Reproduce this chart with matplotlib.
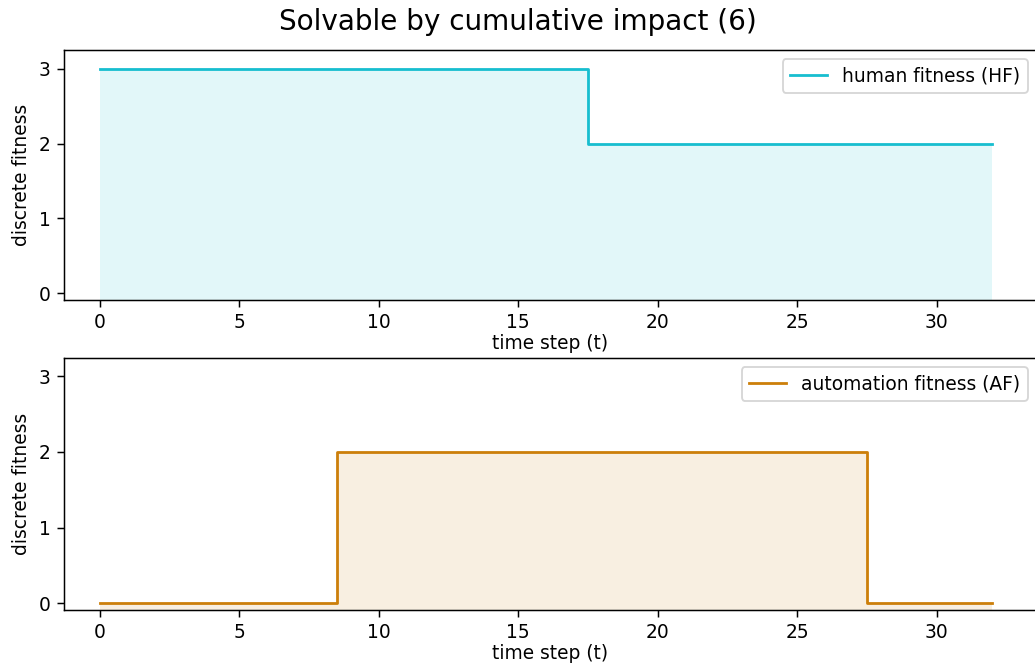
import matplotlib
matplotlib.use("Agg")
import matplotlib.pyplot as plt

time_steps = [0, 1, 2, 3, 4, 5, 6, 7, 8, 9, 10, 11, 12, 13, 14, 15, 16,
              17, 18, 19, 20, 21, 22, 23, 24, 25, 26, 27, 28, 29, 30, 31, 32]
human_fitness = [3, 3, 3, 3, 3, 3, 3, 3, 3, 3, 3, 3, 3, 3, 3, 3, 3,
                 3, 2, 2, 2, 2, 2, 2, 2, 2, 2, 2, 2, 2, 2, 2, 2]
automation_fitness = [0, 0, 0, 0, 0, 0, 0, 0, 0, 2, 2, 2, 2, 2, 2, 2, 2,
                      2, 2, 2, 2, 2, 2, 2, 2, 2, 2, 2, 0, 0, 0, 0, 0]

title = "Solvable by cumulative impact (6)"
hf_label = "human fitness (HF)"
af_label = "automation fitness (AF)"
hf_color = "#17becf"
af_color = "#cc7f0a"

DPI = 134
fig = plt.figure(figsize=(1035 / DPI, 670 / DPI), dpi=DPI)
plt.rcParams['font.size'] = 10

W, H = 1035.0, 670.0
left = 63.5 / W
right = 1037.0 / W
ax1 = fig.add_axes([left, 1 - 300 / H, right - left, 250 / H])
ax2 = fig.add_axes([left, 1 - 610 / H, right - left, 252.5 / H])

y_bottom, y_top = -0.09, 3.25
for ax, vals, col, lab in [(ax1, human_fitness, hf_color, hf_label),
                           (ax2, automation_fitness, af_color, af_label)]:
    ax.step(time_steps, vals, where='mid', color=col, linewidth=1.5, label=lab)
    ax.fill_between(time_steps, vals, y_bottom, step='mid', color=col,
                    alpha=0.12, linewidth=0)
    ax.set_xlim(-1.3, 33.6)
    ax.set_ylim(y_bottom, y_top)
    ax.set_xticks([0, 5, 10, 15, 20, 25, 30])
    ax.set_yticks([0, 1, 2, 3])
    ax.set_xlabel("time step (t)", labelpad=1)
    ax.set_ylabel("discrete fitness")
    ax.legend(loc='upper right')

fig.text(0.5, 1 - 22 / H, title, ha='center', va='center', fontsize=15)

fig.savefig("out.png", dpi=DPI)
